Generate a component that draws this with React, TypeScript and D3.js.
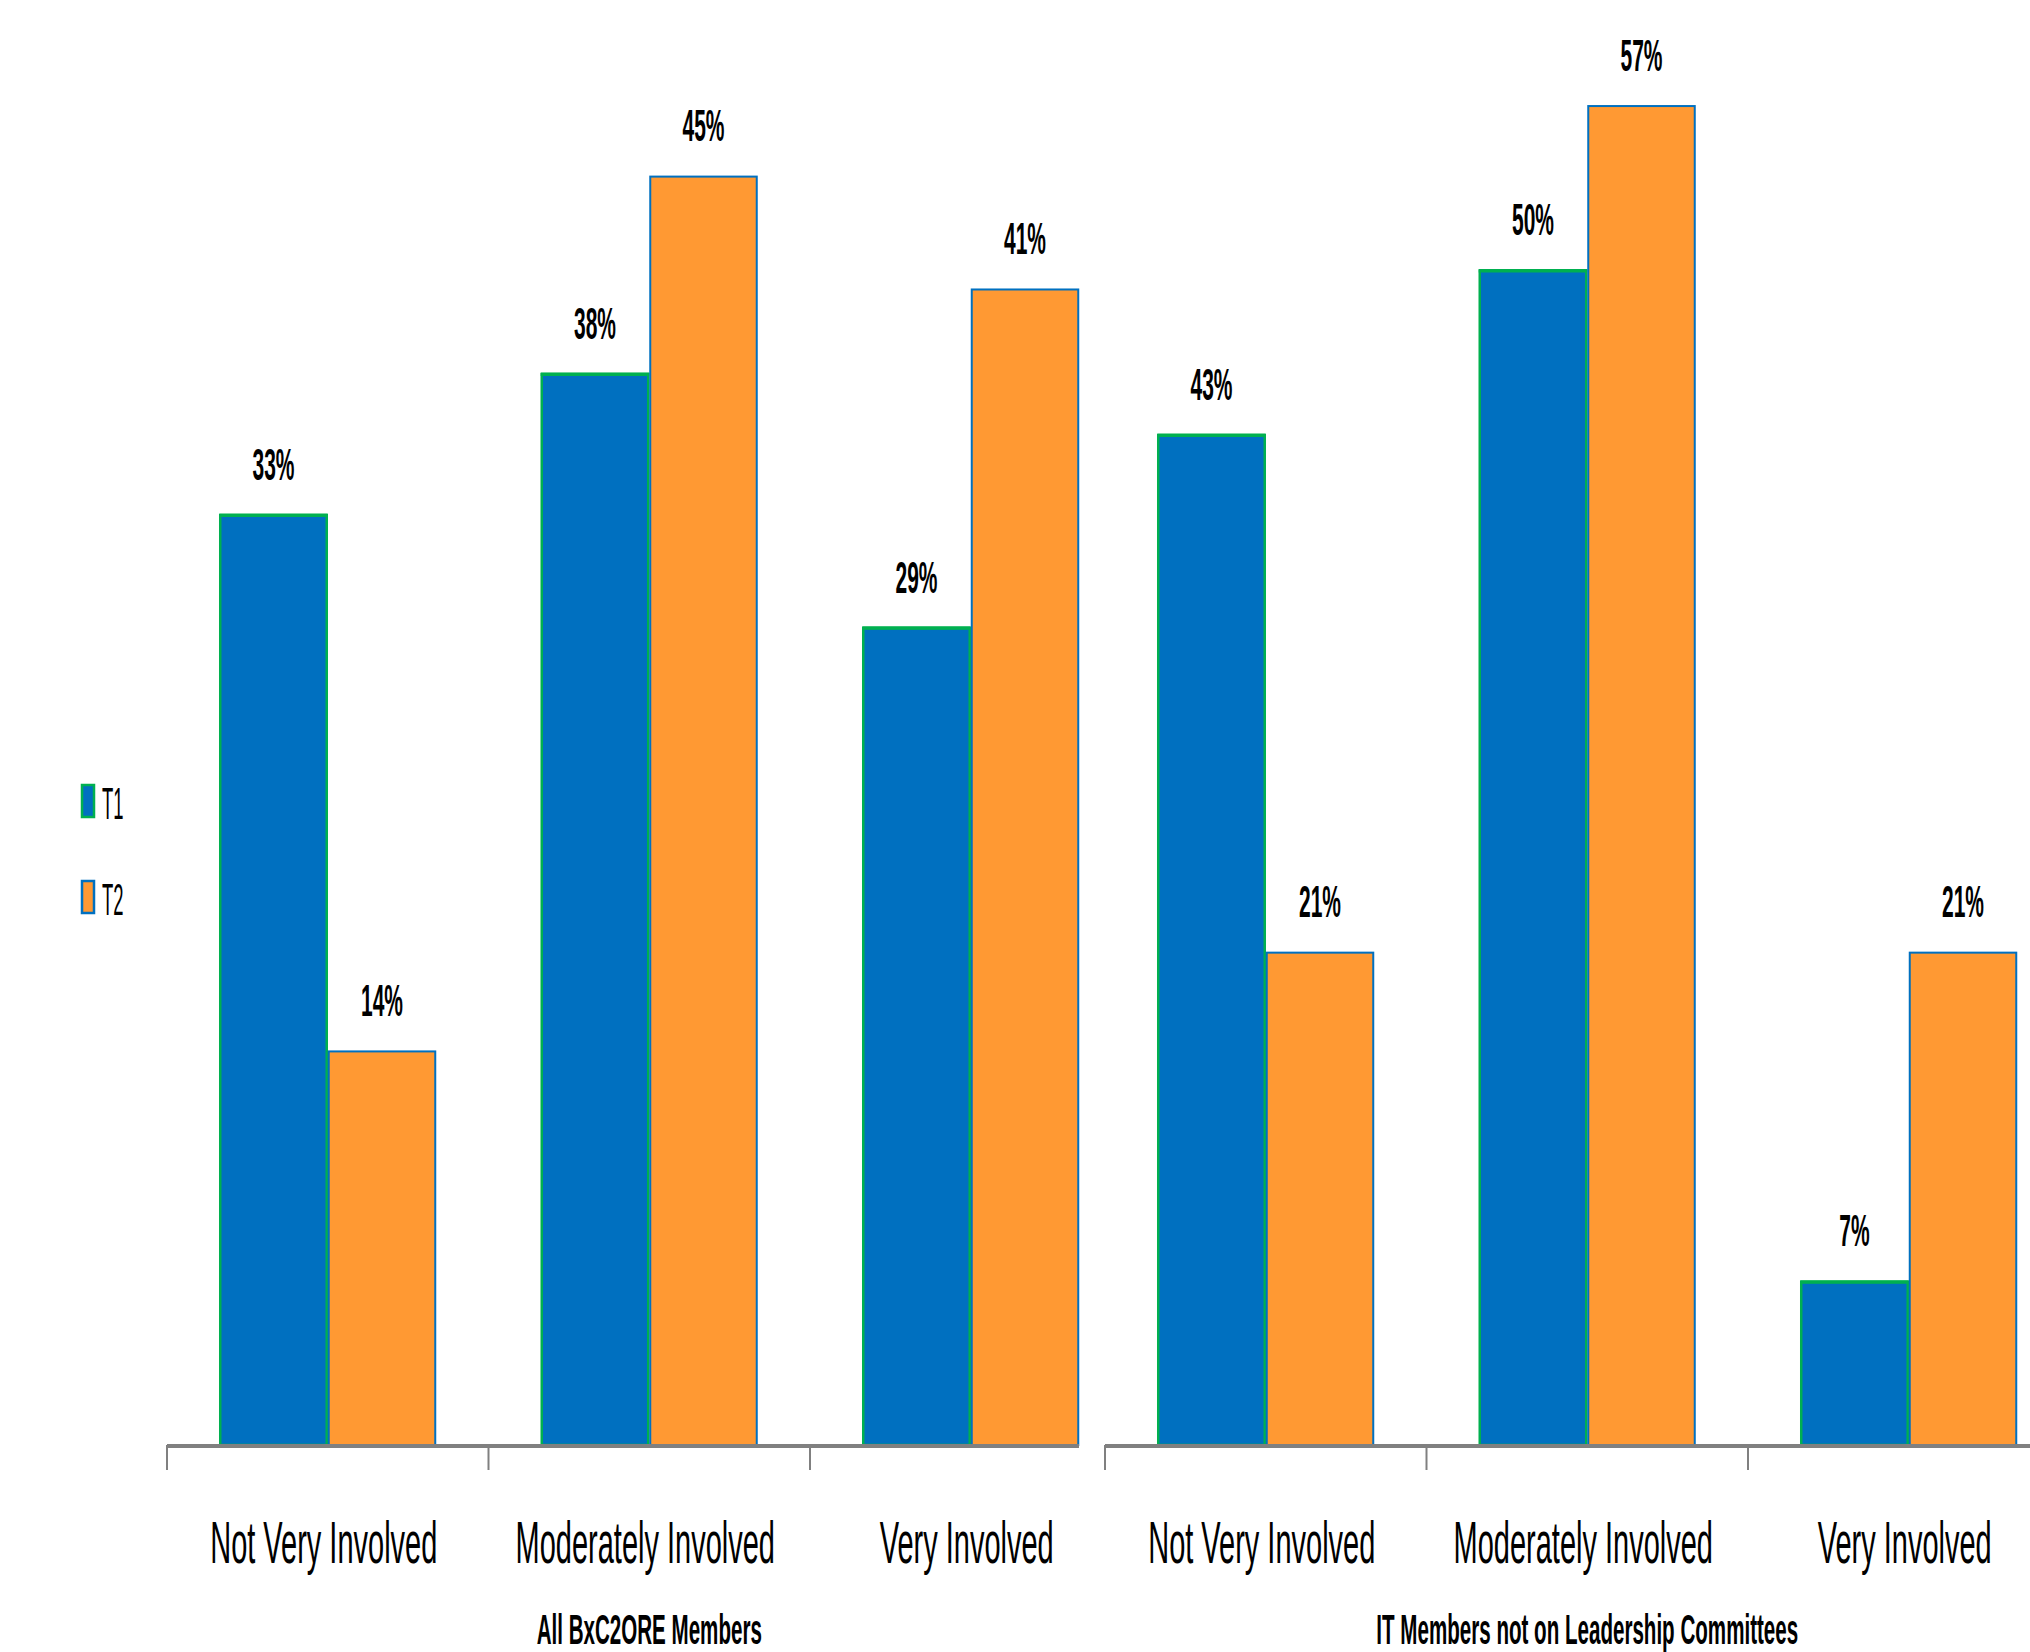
import React from "react";
import * as d3 from "d3";

const categories = ["Not Very Involved", "Moderately Involved", "Very Involved"];
const seriesNames = ["T1", "T2"];
const groupTitles = ["All BxC2ORE Members", "IT Members not on Leadership Committees"];
const groupAllT1 = [0.33, 0.38, 0.29];
const groupAllT2 = [0.14, 0.45, 0.41];
const groupITT1 = [0.43, 0.50, 0.07];
const groupITT2 = [0.21, 0.57, 0.21];
const yMaxAll = 0.5;
const yMaxIT = 0.6;

const W = 2030;
const H = 1652;
const BLUE = "#0070C0";
const ORANGE = "#FF9933";
const GREEN = "#00B050";
const GREY = "#808080";
const FONT = "'Liberation Sans', Arial, sans-serif";

const plotTop = 34;
const baseY = 1445;
const step = 321.5;
const panels = [
  { left: 167, clipRight: 1079, t1: groupAllT1, t2: groupAllT2, yMax: yMaxAll, title: groupTitles[0] },
  { left: 1105, clipRight: 2100, t1: groupITT1, t2: groupITT2, yMax: yMaxIT, title: groupTitles[1] },
];

function SText(props: { x: number; y: number; sx: number; size: number; bold?: boolean; anchor?: string; children: string }) {
  const { x, y, sx, size, bold, anchor, children } = props;
  return (
    <text
      transform={`translate(${x},${y}) scale(${sx},1)`}
      fontFamily={FONT}
      fontSize={size}
      fontWeight={bold ? "bold" : "normal"}
      textAnchor={anchor || "middle"}
      fill="#000"
    >
      {children}
    </text>
  );
}

function Panel(p: typeof panels[number]) {
  const x0 = d3.scaleBand<string>().domain(categories).range([p.left, p.left + step * categories.length]).paddingInner(0.325).paddingOuter(0.1625);
  const x1 = d3.scaleBand<string>().domain(seriesNames).range([0, x0.bandwidth()]);
  const y = d3.scaleLinear().domain([0, p.yMax]).range([baseY, plotTop]);
  const vals = [p.t1, p.t2];
  const fills = [BLUE, ORANGE];
  const strokes = [GREEN, BLUE];
  const axisRight = Math.min(p.left + step * categories.length, p.clipRight);
  const ticks = d3.range(categories.length + 1).map((i) => p.left + i * step).filter((t) => t < p.clipRight - 5);
  return (
    <g>
      {categories.map((c, ci) => (
        <g key={c}>
          {seriesNames.map((s, si) => {
            const v = vals[si][ci];
            const bx = (x0(c) as number) + (x1(s) as number);
            const bw = x1.bandwidth();
            const top = y(v);
            return (
              <g key={s}>
                <rect x={bx + 1} y={top + 1.5} width={bw - 2} height={baseY - top - 1.5} fill={fills[si]} stroke={strokes[si]} strokeWidth={si === 0 ? 2.5 : 2} />
                {si === 0 && <line x1={bx} x2={bx + bw} y1={top + 1.5} y2={top + 1.5} stroke={GREEN} strokeWidth={3.5} />}
                <SText x={bx + bw / 2} y={top - 34} sx={0.477} size={44} bold>
                  {`${Math.round(v * 100)}%`}
                </SText>
              </g>
            );
          })}
          <SText x={(x0(c) as number) + x0.bandwidth() / 2 - 4} y={1563} sx={0.483} size={60}>
            {c}
          </SText>
        </g>
      ))}
      <line x1={p.left} x2={axisRight} y1={baseY + 1} y2={baseY + 1} stroke={GREY} strokeWidth={4} />
      {ticks.map((t) => (
        <line key={t} x1={t} x2={t} y1={baseY} y2={1470} stroke={GREY} strokeWidth={2} />
      ))}
      <SText x={p.left + (step * categories.length) / 2} y={1644} sx={0.49} size={42} bold>
        {p.title}
      </SText>
    </g>
  );
}

export default function App() {
  const legend = [
    { name: seriesNames[0], fill: BLUE, stroke: GREEN, y: 785 },
    { name: seriesNames[1], fill: ORANGE, stroke: BLUE, y: 881 },
  ];
  return (
    <svg width={W} height={H} style={{ position: "absolute", left: 0, top: 0, background: "#fff" }}>
      <rect width={W} height={H} fill="#fff" />
      {panels.map((p, i) => (
        <Panel key={i} {...p} />
      ))}
      {legend.map((l) => (
        <g key={l.name}>
          <rect x={82} y={l.y} width={12} height={32} fill={l.fill} stroke={l.stroke} strokeWidth={2.5} />
          <SText x={102} y={l.y + 34} sx={0.41} size={45} anchor="start">
            {l.name}
          </SText>
        </g>
      ))}
    </svg>
  );
}
